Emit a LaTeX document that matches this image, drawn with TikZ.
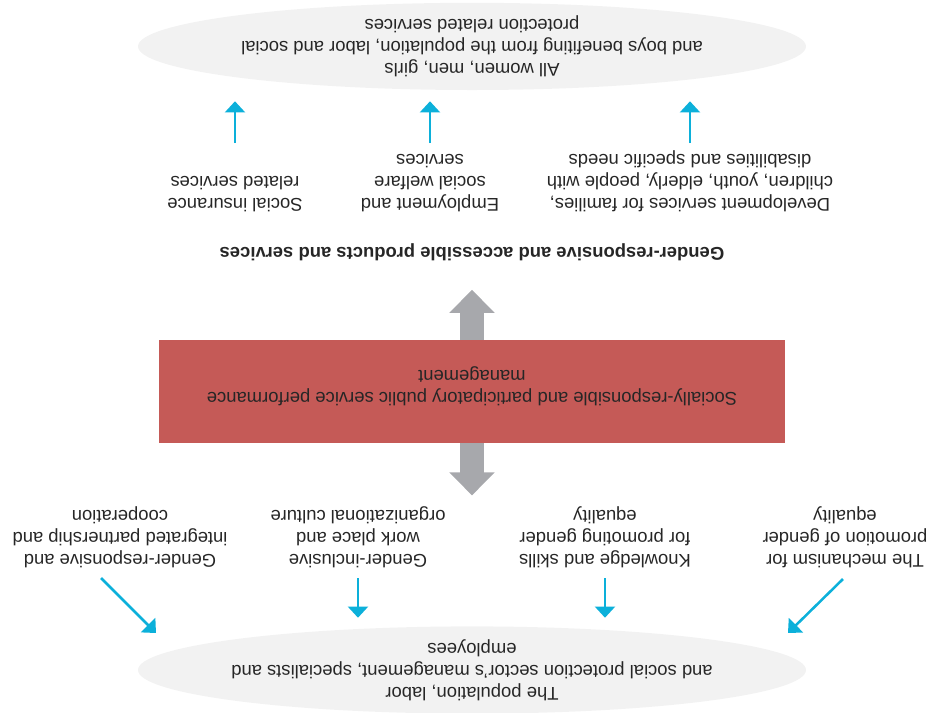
\documentclass[tikz,border=0pt]{standalone}
\usepackage{fontspec}
\setmainfont{Liberation Sans}
\usepackage{tikz}
\usetikzlibrary{arrows.meta, positioning, shapes.geometric}
\definecolor{redfill}{HTML}{C55A57}
\definecolor{lightfill}{HTML}{F2F2F2}
\definecolor{arrowgray}{HTML}{A7A8AC}
\definecolor{arrowblue}{HTML}{0CB0DA}
\definecolor{textdark}{HTML}{262626}

\tikzset{
  txt/.style={font=\fontsize{13.1}{15.6}\selectfont, align=center, inner sep=0pt, text=textdark},
  bubble/.style={ellipse, fill=lightfill, minimum width=16.7cm, minimum height=2.18cm, txt, inner xsep=-0.4cm, inner ysep=0pt},
  bluearr/.style={-{Triangle[width=0.5cm,length=0.28cm]}, line width=1.8pt, arrowblue},
  grayarr/.style={-{Triangle[width=1.1cm,length=0.575cm]}, line width=0.6cm, arrowgray},
}

\begin{document}
\begin{tikzpicture}[rotate=180, transform shape]
    \useasboundingbox (0,0) rectangle (23.325,17.8);

    \node[bubble] (women) at (11.525,1.16) {All women, men, girls\\and boys benefiting from the population, labor and social\\protection related services};
    \node[bubble] (people) at (11.525,16.75) {The population, labor\\and social protection sector's management, specialists and\\employees};

    \node[txt, anchor=north] (srvC) at (6.075,5.3) {Development services for families,\\children, youth, elderly, people with\\disabilities and specific needs};
    \node[txt, anchor=north] (srvB) at (12.575,5.3) {Employment and\\social welfare\\services};
    \node[txt, anchor=north] (srvA) at (17.45,5.3) {Social insurance\\related services};
    \coordinate (rowup) at (0,3.575);
    \draw[bluearr, shorten >=0.275cm] (srvA |- rowup) -- (srvA |- women.north);
    \draw[bluearr, shorten >=0.275cm] (srvB |- rowup) -- (srvB |- women.north);
    \draw[bluearr, shorten >=0.275cm] (srvC |- rowup) -- (srvC |- women.north);

    \node[txt, font=\fontsize{13.1}{15.6}\selectfont\bfseries] (title) at (11.525,6.3) {Gender-responsive and accessible products and services};

    \node[fill=redfill, minimum width=15.65cm, minimum height=2.575cm] (mgmt) at (11.525,9.79) {};
    \node[txt, yshift=-0.13cm] (mgmttxt) at (mgmt) {Socially-responsible and participatory public service performance\\management};
    \draw[grayarr] (mgmt.south) -- ++(0,-1.25);
    \draw[grayarr] (mgmt.north) -- ++(0,1.3);

    \node[txt, anchor=north] (mech) at (2.2,14.2) {The mechanism for\\promotion of gender\\equality};
    \node[txt, anchor=north] (know) at (8.2,14.2) {Knowledge and skills\\for promoting gender\\equality};
    \node[txt, anchor=north] (incl) at (14.375,14.2) {Gender-inclusive\\work place and\\organizational culture};
    \node[txt, anchor=north] (partner) at (20.325,14.2) {Gender-responsive and\\integrated partnership and\\cooperation};

    \draw[bluearr] ([shift={(0.05,0.275)}]mech.north) -- ++(1.375,1.35);
    \draw[bluearr, shorten >=0.21cm] ([yshift=0.25cm]know.north) -- (know |- people.south);
    \draw[bluearr, shorten >=0.21cm] ([yshift=0.25cm]incl.north) -- (incl |- people.south);
    \draw[bluearr] ([shift={(0.475,0.25)}]partner.north) -- ++(-1.375,1.375);
  \end{tikzpicture}
\end{document}
